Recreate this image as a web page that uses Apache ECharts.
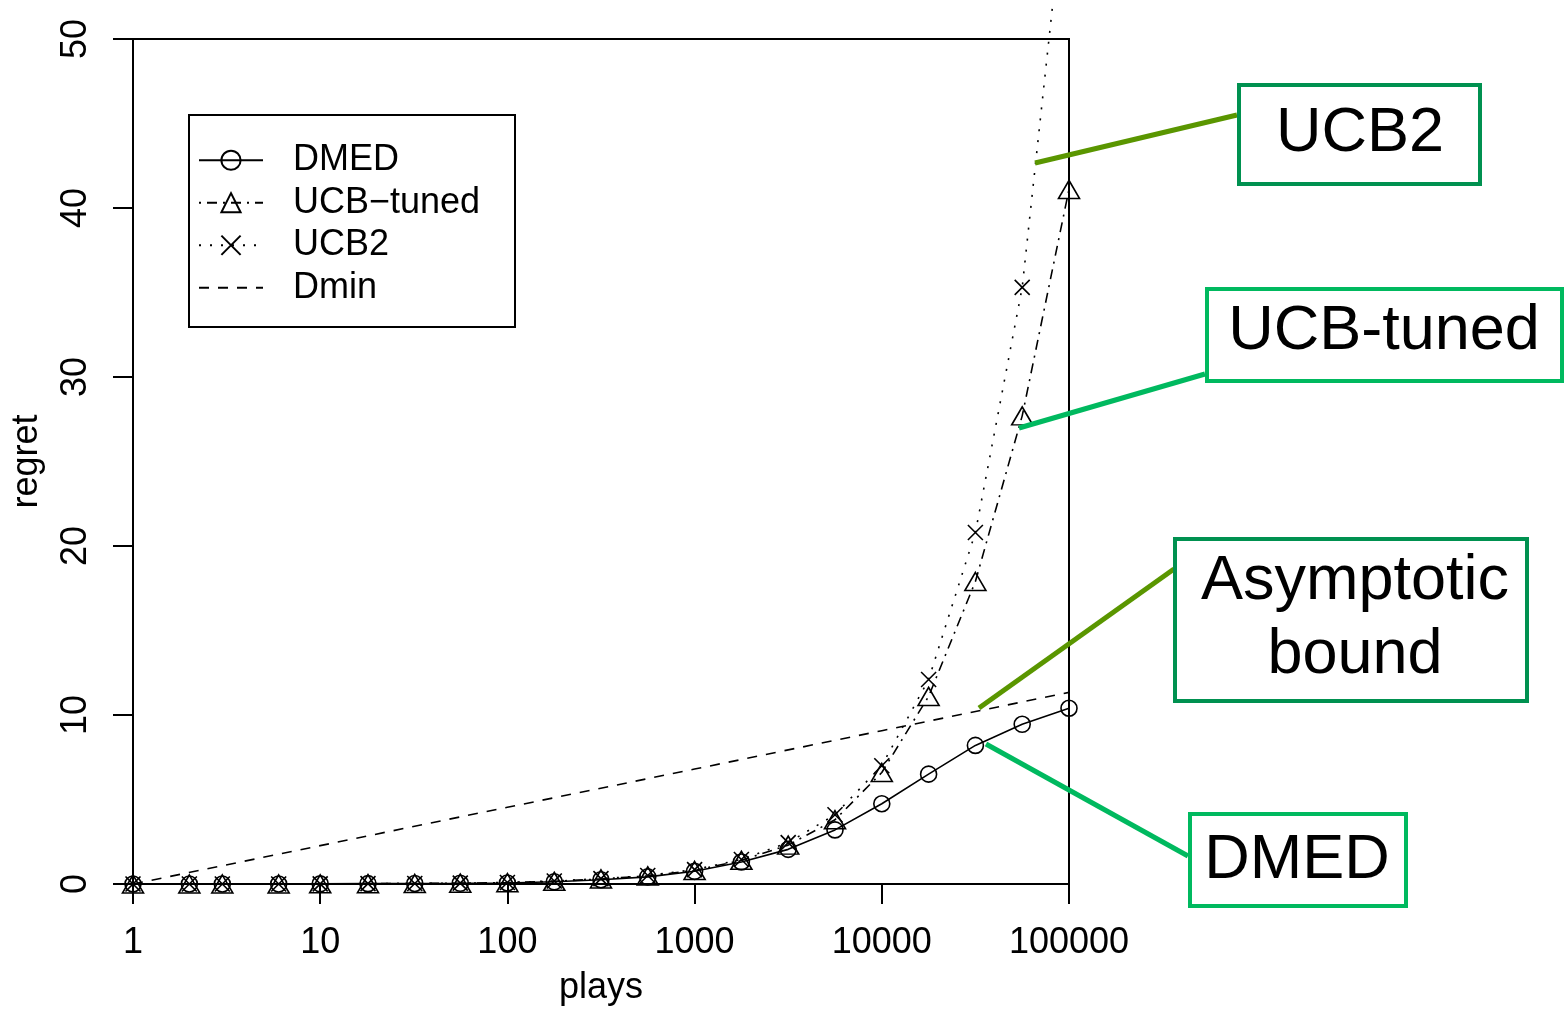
<!DOCTYPE html>
<html>
<head>
<meta charset="utf-8">
<script src="https://cdn.jsdelivr.net/npm/echarts@6/dist/echarts.min.js"></script>
<style>
html,body{margin:0;padding:0;background:#fff;}
#chart{width:1566px;height:1009px;}
</style>
</head>
<body>
<div id="chart"></div>
<script>
// ---- data ----
const plays = [1, 2, 3, 6, 10, 18, 32, 56, 100, 178, 316, 562, 1000, 1778, 3162, 5623, 10000, 17783, 31623, 56234, 100000];
const dmed      = [0, 0, 0, 0, 0.01, 0.02, 0.03, 0.04, 0.06, 0.13, 0.25, 0.42, 0.75, 1.3, 2.05, 3.2, 4.75, 6.5, 8.2, 9.45, 10.4];
const ucbTuned  = [0, 0, 0, 0, 0.01, 0.02, 0.03, 0.05, 0.08, 0.16, 0.3, 0.48, 0.8, 1.4, 2.3, 3.8, 6.6, 11.1, 17.9, 27.7, 41.1];
const ucb2      = [0, 0, 0, 0, 0.01, 0.02, 0.03, 0.05, 0.09, 0.18, 0.32, 0.5, 0.85, 1.45, 2.45, 4.1, 7.0, 12.1, 20.8, 35.3, 61];
const dminPlays = [1, 10, 100, 1000, 10000, 100000];
const dmin      = [0, 2.27, 4.54, 6.8, 9.07, 11.34];
const xTicks = [1, 10, 100, 1000, 10000, 100000];
const yTicks = [0, 10, 20, 30, 40, 50];
const seriesNames = ['DMED', 'UCB\u2212tuned', 'UCB2', 'Dmin'];
const annotations = ['UCB2', 'UCB-tuned', 'Asymptotic\nbound', 'DMED'];

const pairs = (xs, ys) => xs.map((x, i) => [x, ys[i]]);
const FONT = '"Liberation Sans", Arial, Helvetica, sans-serif';
const DARK = '#009150', BRIGHT = '#00B95F', OLIVE = '#5A9600';

const chart = echarts.init(document.getElementById('chart'), null, {renderer: 'canvas'});
const markStyle = {color: 'transparent', borderColor: '#000', borderWidth: 1.6};

const option = {
  backgroundColor: '#fff',
  animation: false,
  grid: {left: 133, right: 497, top: 39, bottom: 125, outerBoundsMode: 'none', containLabel: false,
         show: true, borderColor: '#000', borderWidth: 2, backgroundColor: 'transparent'},
  xAxis: {
    type: 'log', logBase: 10, min: xTicks[0], max: xTicks[xTicks.length - 1],
    name: 'plays', nameLocation: 'middle', nameGap: 86,
    nameTextStyle: {fontFamily: FONT, fontSize: 36, color: '#000'},
    axisLine: {show: true, lineStyle: {color: '#000', width: 2}},
    axisTick: {show: true, length: 20, lineStyle: {color: '#000', width: 2}},
    minorTick: {show: false},
    splitLine: {show: false},
    axisLabel: {fontFamily: FONT, fontSize: 36, color: '#000', margin: 41,
      formatter: v => String(Math.round(v))}
  },
  yAxis: {
    type: 'value', min: yTicks[0], max: yTicks[yTicks.length - 1], interval: 10,
    name: 'regret', nameLocation: 'middle', nameGap: 88, nameRotate: 90,
    nameTextStyle: {fontFamily: FONT, fontSize: 36, color: '#000'},
    axisLine: {show: true, lineStyle: {color: '#000', width: 2}},
    axisTick: {show: true, length: 20, lineStyle: {color: '#000', width: 2}},
    splitLine: {show: false},
    axisLabel: {fontFamily: FONT, fontSize: 36, color: '#000', margin: 39, rotate: 90}
  },
  legend: {
    data: seriesNames,
    orient: 'vertical', left: 198, top: 139, padding: 0,
    itemWidth: 64, itemHeight: 24, itemGap: 0,
    textStyle: {fontFamily: FONT, fontSize: 36, color: '#000', lineHeight: 42.5, padding: [0, 0, 0, 25]},
    selectedMode: false
  },
  series: [
    {name: seriesNames[0], type: 'line', data: pairs(plays, dmed),
     symbol: 'circle', symbolSize: 16, showAllSymbol: true,
     itemStyle: markStyle, lineStyle: {color: '#000', width: 1.6, type: 'solid'}, z: 5},
    {name: seriesNames[1], type: 'line', data: pairs(plays, ucbTuned),
     symbol: 'triangle', symbolSize: [21, 18], showAllSymbol: true,
     itemStyle: markStyle, lineStyle: {color: '#000', width: 1.6, type: [2, 6, 10, 6]}, z: 4},
    {name: seriesNames[2], type: 'line', data: pairs(plays, ucb2), clip: false,
     symbol: 'path://M0,0L10,10M0,10L10,0', symbolSize: 15, showAllSymbol: true,
     itemStyle: markStyle, lineStyle: {color: '#000', width: 1.6, type: [2, 9]}, z: 3},
    {name: seriesNames[3], type: 'line', data: pairs(dminPlays, dmin),
     symbol: 'none', itemStyle: {color: 'transparent', borderColor: 'transparent', borderWidth: 0},
     lineStyle: {color: '#000', width: 1.6, type: [10, 9]}, z: 2}
  ],
  graphic: [
    {type: 'rect', shape: {x: 189, y: 115, width: 326, height: 212}, style: {fill: 'none', stroke: '#000', lineWidth: 2}, z: 10},
    // UCB2 annotation
    {type: 'line', shape: {x1: 1035, y1: 163, x2: 1237, y2: 115}, style: {stroke: OLIVE, lineWidth: 5}, z: 20},
    {type: 'rect', shape: {x: 1239, y: 85, width: 241, height: 99}, style: {fill: '#fff', stroke: DARK, lineWidth: 4}, z: 20},
    {type: 'text', style: {text: annotations[0], x: 1360, y: 134, font: '63px ' + FONT, textAlign: 'center', textVerticalAlign: 'middle', fill: '#000'}, z: 21},
    // UCB-tuned annotation
    {type: 'line', shape: {x1: 1019, y1: 428, x2: 1205, y2: 374}, style: {stroke: BRIGHT, lineWidth: 5}, z: 20},
    {type: 'rect', shape: {x: 1207, y: 289, width: 355, height: 92}, style: {fill: '#fff', stroke: BRIGHT, lineWidth: 4}, z: 20},
    {type: 'text', style: {text: annotations[1], x: 1384, y: 332, font: '63px ' + FONT, textAlign: 'center', textVerticalAlign: 'middle', fill: '#000'}, z: 21},
    // Asymptotic bound annotation
    {type: 'line', shape: {x1: 979, y1: 708, x2: 1174, y2: 569}, style: {stroke: OLIVE, lineWidth: 5}, z: 20},
    {type: 'rect', shape: {x: 1175, y: 539, width: 352, height: 162}, style: {fill: '#fff', stroke: DARK, lineWidth: 4}, z: 20},
    {type: 'text', style: {text: annotations[2], x: 1355, y: 619, font: '63px ' + FONT, textAlign: 'center', textVerticalAlign: 'middle', lineHeight: 74, fill: '#000'}, z: 21},
    // DMED annotation
    {type: 'line', shape: {x1: 986, y1: 744, x2: 1188, y2: 856}, style: {stroke: BRIGHT, lineWidth: 5}, z: 20},
    {type: 'rect', shape: {x: 1190, y: 814, width: 216, height: 92}, style: {fill: '#fff', stroke: BRIGHT, lineWidth: 4}, z: 20},
    {type: 'text', style: {text: annotations[3], x: 1297, y: 861, font: '63px ' + FONT, textAlign: 'center', textVerticalAlign: 'middle', fill: '#000'}, z: 21}
  ]
};
chart.setOption(option);
</script>
</body>
</html>
